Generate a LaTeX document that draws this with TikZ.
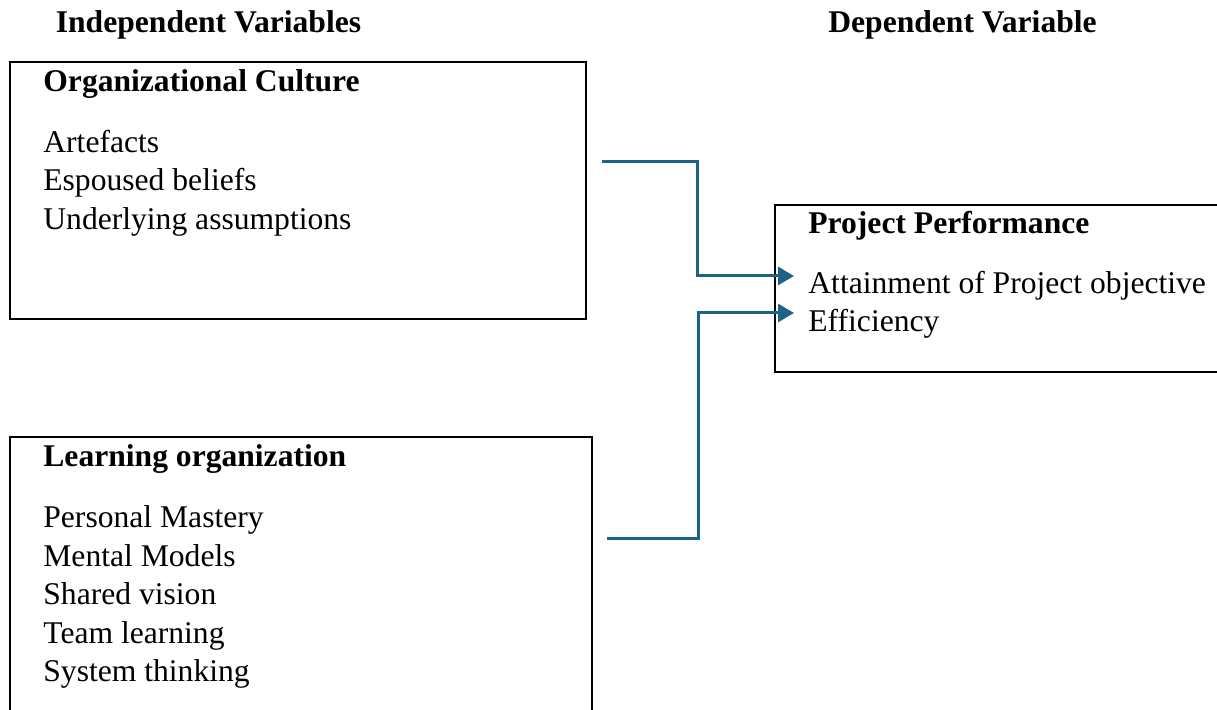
\documentclass[tikz,border=0pt]{standalone}
\usepackage{fontspec}
\setmainfont{Liberation Serif}
\usetikzlibrary{arrows.meta}
\definecolor{conn}{HTML}{1D6386}
\tikzset{
  box/.style={draw=black, line width=1.2pt, rectangle, inner sep=0pt},
  txt/.style={anchor=base west, inner sep=0pt, font=\fontsize{15.8}{19}\selectfont},
  head/.style={txt, font=\fontsize{15.8}{19}\selectfont\bfseries},
  link/.style={draw=conn, line width=1.5pt, -{Triangle[length=8pt,width=9pt]}},
}
\begin{document}
\begin{tikzpicture}[x=0.5pt,y=-0.5pt]
\useasboundingbox (0,0) rectangle (1217,710);
% boxes
\node[box, minimum width=288pt, minimum height=128.5pt, anchor=north west] (oc) at (9,61) {};
\node[box, minimum width=291pt, minimum height=145pt, anchor=north west] (lo) at (9,436) {};
\node[box, minimum width=228pt, minimum height=83.5pt, anchor=north west] (pp) at (774,204) {};
% headings
\node[head, anchor=base] (iv) at (208.5,33) {Independent Variables};
\node[head, anchor=base] (dv) at (962.5,33) {Dependent Variable};
% box 1 text
\node[head] (oct) at (43,92) {Organizational Culture};
\node[txt] (a1) at (43,152.5) {Artefacts};
\node[txt] (a2) at (43,191) {Espoused beliefs};
\node[txt] (a3) at (43,229.5) {Underlying assumptions};
% box 2 text
\node[head] (lot) at (43,467) {Learning organization};
\node[txt] (b1) at (43,528) {Personal Mastery};
\node[txt] (b2) at (43,566.5) {Mental Models};
\node[txt] (b3) at (43,605) {Shared vision};
\node[txt] (b4) at (43,643.5) {Team learning};
\node[txt] (b5) at (43,682) {System thinking};
% box 3 text
\node[head] (ppt) at (808,233.5) {Project Performance};
\node[txt] (c1) at (808,293.5) {Attainment of Project objective};
\node[txt] (c2) at (808,332) {Efficiency};
% connector ends
\coordinate (s1) at (602,162);
\coordinate (t1) at (794,276);
\coordinate (s2) at (607,539);
\coordinate (t2) at (794,313);
\draw[link] (s1) -| (697,276) -- (t1);
\draw[link] (s2) -| (698,313) -- (t2);
\end{tikzpicture}
\end{document}
